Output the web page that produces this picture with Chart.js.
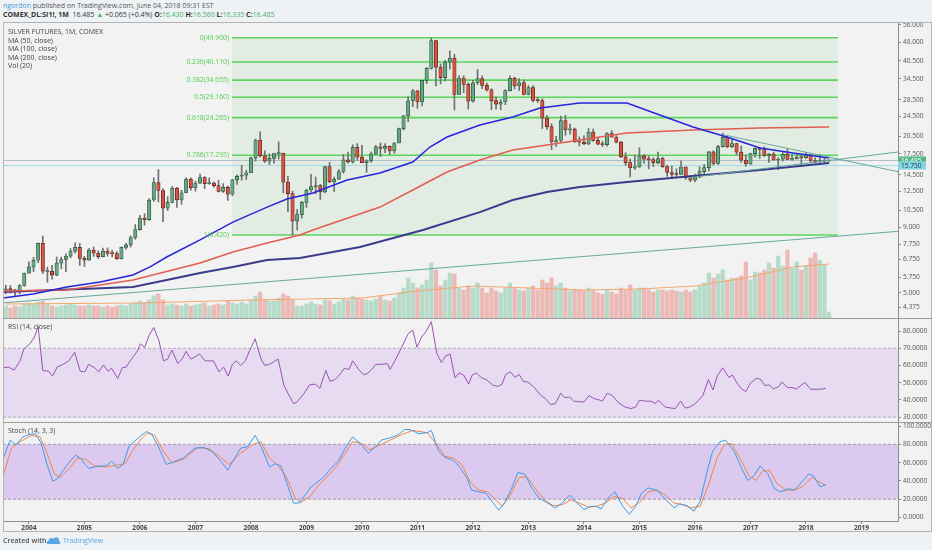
<!DOCTYPE html>
<html>
<head>
<meta charset="utf-8">
<title>Silver futures 1M</title>
<script src="https://cdn.jsdelivr.net/npm/chart.js@4.4.1/dist/chart.umd.min.js"></script>
<style>
  html, body { margin: 0; padding: 0; }
  body { width: 932px; height: 550px; background: #eef2f5; position: relative; overflow: hidden; font-family: 'Open Sans', sans-serif; }
  canvas { position: absolute; left: 0; background: #f2f2f2; }
  .txt { position: absolute; white-space: nowrap; color: #444; font-size: 7px; line-height: 8.5px; }
  .g { color: #4caf6a; }
  .rule { position: absolute; background: #b4b4b4; }
</style>
</head>
<body>
<div class="txt" style="left:3px;top:2px;color:#555"><span style="color:#3d9ad8">ngordon</span> published on TradingView.com, June 04, 2018 09:31 EST</div>
<div class="txt" style="left:3px;top:11px;color:#333"><b>COMEX_DL:SI1!, 1M</b>&nbsp; 16.485 <span class="g">▲</span> +0.065 (+0.4%) <b>O:</b><span class="g">16.430</span> <b>H:</b><span class="g">16.560</span> <b>L:</b><span class="g">16.335</span> <b>C:</b><span class="g">16.485</span></div>

<canvas id="mainChart" width="932" height="296" style="top:22px"></canvas>
<canvas id="rsiChart" width="932" height="104" style="top:318px"></canvas>
<canvas id="stochChart" width="932" height="110" style="top:422px"></canvas>

<div class="txt" style="left:8px;top:28px">SILVER FUTURES, 1M, COMEX<br>MA (50, close)<br>MA (100, close)<br>MA (200, close)<br>Vol (20)</div>
<div class="txt" style="left:8px;top:323px">RSI (14, close)</div>
<div class="txt" style="left:8px;top:427px">Stoch (14, 3, 3)</div>

<div class="rule" style="left:3px;top:22px;width:929px;height:1px"></div>
<div class="rule" style="left:3px;top:22px;width:1px;height:510px"></div>
<div class="rule" style="left:931px;top:22px;width:1px;height:510px"></div>
<div class="rule" style="left:3px;top:531px;width:929px;height:1px"></div>
<div class="rule" style="left:3px;top:318px;width:929px;height:1px;background:#9c9c9c"></div>
<div class="rule" style="left:3px;top:422px;width:929px;height:1px;background:#9c9c9c"></div>

<div class="txt" style="left:3px;top:537px;color:#555;font-weight:600">Created with</div>
<svg style="position:absolute;left:46px;top:536px" width="15" height="9" viewBox="0 0 15 9">
  <path d="M2 8 C0 8 0 5 2.5 5 C2.5 2 6 1 7.5 3 C9 0 14 1 13 5 C15 5 15 8 13 8 Z" fill="#5aa8e3"/>
</svg>
<div class="txt" style="left:63px;top:537px;color:#5aa8e3">TradingView</div>

<script>
// months are counted from Jan 2004 (= 0); first candle is Aug 2003
const START_MONTH = -5;
const X_MIN = -5.6;
const X_MAX = 187.9;
const yearLabels = ['2004', '2005', '2006', '2007', '2008', '2009', '2010', '2011',
                    '2012', '2013', '2014', '2015', '2016', '2017', '2018', '2019'];

// monthly candles, Aug 2003 .. Jun 2018
const opens = [
  5.10, 5.18, 5.13, 5.07, 5.34,
  5.97, 6.30, 6.70, 7.80, 6.05, 6.07, 5.86, 6.53, 6.75, 6.95, 7.28, 7.53,
  6.82, 6.71, 7.34, 7.14, 6.92, 7.28, 7.12, 7.11, 6.80, 7.53, 7.70, 8.23,
  8.83, 9.80, 9.66, 11.54, 13.50, 12.58, 10.72, 11.30, 12.84, 11.55, 12.32, 13.94,
  12.90, 13.43, 14.14, 13.38, 13.46, 13.15, 12.47, 12.94, 12.16, 13.85, 14.30, 14.44,
  14.76, 16.88, 19.82, 17.20, 16.40, 16.80, 17.53, 17.57, 13.56, 12.23, 9.54, 10.12,
  11.30, 12.63, 13.03, 13.15, 12.41, 15.59, 13.59, 13.93, 14.93, 16.59, 16.27, 18.57,
  16.99, 16.18, 16.44, 17.49, 18.64, 18.40, 18.73, 17.97, 19.31, 21.98, 24.67, 28.26,
  30.92, 27.95, 33.98, 37.87, 48.60, 38.25, 34.84, 40.07, 41.51, 29.93, 34.71, 32.79,
  28.18, 33.24, 34.54, 32.48, 31.20, 28.31, 27.42, 27.94, 30.99, 34.61, 32.31, 33.28,
  29.95, 31.80, 28.35, 28.31, 24.15, 22.37, 19.48, 19.74, 23.65, 21.73, 21.87, 19.49,
  19.47, 19.14, 21.31, 19.76, 19.10, 19.02, 21.01, 20.38, 19.46, 17.05, 16.18, 15.42,
  15.56, 17.19, 16.67, 16.62, 16.16, 16.77, 15.60, 14.80, 14.55, 14.53, 15.55, 14.13,
  13.82, 14.19, 14.91, 15.46, 17.82, 16.06, 18.69, 20.32, 18.66, 19.21, 17.77, 16.54,
  15.99, 17.54, 18.40, 18.21, 17.25, 17.47, 16.56, 16.70, 17.48, 16.66, 16.73, 16.95,
  16.92, 17.35, 16.49, 16.31, 16.41, 16.43
];
const highs = [
  5.35, 5.33, 5.16, 5.38, 5.98,
  6.60, 6.88, 7.85, 8.34, 6.30, 6.40, 6.90, 6.90, 7.10, 7.45, 7.85, 7.80,
  6.94, 7.45, 7.56, 7.30, 7.48, 7.50, 7.35, 7.25, 7.55, 7.80, 8.35, 9.25,
  10.05, 10.20, 11.70, 14.10, 15.20, 12.80, 11.90, 13.05, 12.95, 12.60, 14.10, 14.10,
  13.70, 14.60, 14.25, 14.10, 13.60, 13.80, 13.40, 13.10, 13.90, 14.50, 15.80, 15.10,
  17.00, 20.00, 21.35, 18.00, 17.50, 17.60, 19.50, 17.60, 14.30, 12.50, 10.60, 11.40,
  12.70, 14.55, 14.20, 13.30, 15.65, 16.20, 14.20, 15.20, 17.40, 17.80, 19.00, 19.20,
  18.90, 16.60, 17.80, 18.90, 19.30, 19.20, 18.80, 19.40, 22.10, 24.80, 29.30, 31.30,
  31.05, 34.00, 38.20, 49.80, 48.80, 39.40, 40.70, 44.30, 43.00, 35.50, 35.40, 33.20,
  34.00, 37.50, 35.40, 33.20, 31.50, 29.30, 28.60, 31.30, 35.40, 35.00, 34.50, 34.10,
  32.40, 32.40, 29.20, 28.80, 24.80, 23.00, 20.50, 24.60, 24.80, 22.90, 22.10, 20.40,
  20.60, 22.00, 21.90, 20.20, 19.60, 21.20, 21.60, 20.60, 19.60, 17.70, 16.70, 17.30,
  18.50, 17.40, 17.20, 16.90, 17.80, 17.00, 15.80, 15.70, 15.30, 16.40, 15.60, 14.40,
  14.60, 15.60, 15.90, 17.90, 18.00, 18.90, 21.10, 20.50, 20.10, 19.30, 18.80, 17.30,
  17.60, 18.50, 18.50, 18.65, 17.60, 17.80, 16.90, 17.70, 18.30, 17.40, 17.40, 17.20,
  17.70, 17.40, 16.90, 17.40, 16.80, 16.56
];
const lows = [
  4.95, 4.98, 4.82, 4.95, 5.30,
  5.96, 6.05, 6.55, 5.95, 5.50, 5.65, 5.82, 6.20, 6.05, 6.85, 7.15, 6.40,
  6.34, 6.70, 6.94, 6.80, 6.90, 6.95, 6.90, 6.75, 6.78, 7.40, 7.55, 8.10,
  8.80, 9.20, 9.60, 11.40, 11.35, 9.50, 10.50, 11.25, 10.80, 11.10, 12.30, 12.60,
  12.50, 13.40, 12.80, 13.30, 12.95, 12.40, 12.35, 11.50, 12.00, 13.30, 13.80, 13.90,
  14.80, 16.40, 17.00, 16.20, 15.90, 16.10, 16.70, 12.30, 10.40, 8.42, 8.80, 9.80,
  10.80, 12.40, 12.20, 11.60, 12.30, 13.50, 12.45, 13.90, 14.70, 16.10, 16.10, 16.50,
  16.20, 14.80, 16.20, 17.40, 17.10, 17.70, 17.40, 17.60, 19.30, 21.70, 23.40, 26.80,
  26.40, 27.00, 33.00, 37.60, 32.30, 32.90, 33.80, 37.60, 26.00, 29.90, 30.40, 26.20,
  27.90, 32.70, 31.50, 30.80, 26.10, 26.20, 26.10, 27.30, 30.90, 31.40, 31.00, 29.80,
  29.80, 28.00, 27.80, 22.00, 21.80, 18.20, 18.70, 19.40, 20.70, 20.90, 19.40, 18.80,
  19.00, 19.00, 19.60, 19.00, 18.70, 18.75, 20.30, 19.30, 16.90, 15.80, 14.20, 15.20,
  15.50, 16.10, 15.30, 15.60, 16.00, 15.50, 14.30, 14.00, 14.20, 14.50, 13.90, 13.62,
  13.60, 14.10, 14.60, 15.00, 15.80, 15.90, 18.60, 18.50, 18.50, 17.40, 16.20, 15.65,
  15.90, 17.00, 16.80, 17.10, 16.20, 16.50, 15.20, 16.40, 16.60, 16.50, 16.70, 15.70,
  16.80, 16.20, 16.10, 16.20, 16.10, 16.335
];
const closes = [
  5.18, 5.14, 5.07, 5.33, 5.96,
  6.31, 6.70, 7.80, 6.07, 6.07, 5.86, 6.53, 6.75, 6.95, 7.28, 7.53, 6.82,
  6.71, 7.34, 7.14, 6.92, 7.28, 7.12, 7.11, 6.80, 7.53, 7.70, 8.23, 8.83,
  9.80, 9.66, 11.54, 13.50, 12.58, 10.72, 11.30, 12.84, 11.55, 12.32, 13.94, 12.90,
  13.43, 14.14, 13.38, 13.46, 13.15, 12.47, 12.94, 12.16, 13.85, 14.30, 14.44, 14.76,
  16.88, 19.82, 17.20, 16.40, 16.80, 17.53, 17.57, 13.56, 12.23, 9.54, 10.12, 11.30,
  12.63, 13.03, 13.15, 12.41, 15.59, 13.59, 13.93, 14.93, 16.59, 16.27, 18.57, 16.99,
  16.18, 16.44, 17.49, 18.64, 18.40, 18.73, 17.97, 19.31, 21.98, 24.67, 28.26, 30.92,
  27.95, 33.98, 37.87, 48.60, 38.25, 34.84, 40.07, 41.51, 29.93, 34.71, 32.79, 28.18,
  33.24, 34.54, 32.48, 31.20, 28.31, 27.42, 27.94, 30.99, 34.61, 32.31, 33.28, 29.95,
  31.80, 28.35, 28.31, 24.15, 22.37, 19.48, 19.74, 23.65, 21.73, 21.87, 19.49, 19.47,
  19.14, 21.31, 19.76, 19.10, 19.02, 21.01, 20.38, 19.46, 17.05, 16.18, 15.42, 15.56,
  17.19, 16.67, 16.62, 16.16, 16.77, 15.60, 14.80, 14.55, 14.53, 15.55, 14.13, 13.82,
  14.19, 14.91, 15.46, 17.82, 16.06, 18.69, 20.32, 18.66, 19.21, 17.77, 16.54, 15.99,
  17.54, 18.40, 18.21, 17.25, 17.47, 16.56, 16.70, 17.48, 16.66, 16.73, 16.95, 16.92,
  17.35, 16.49, 16.31, 16.41, 16.43, 16.485
];
// volume, thousands of contracts
const volumes = [
  300, 250, 300, 275, 350,
  375, 350, 400, 425, 350, 300, 275, 300, 325, 350, 325, 300,
  300, 325, 300, 300, 275, 300, 275, 300, 325, 300, 350, 375,
  425, 375, 450, 550, 600, 450, 325, 350, 325, 300, 350, 300,
  325, 350, 375, 300, 325, 350, 325, 425, 375, 350, 400, 350,
  450, 550, 650, 450, 425, 425, 500, 600, 550, 450, 300, 300,
  350, 400, 350, 325, 450, 425, 350, 400, 475, 450, 550, 500,
  475, 450, 425, 475, 550, 450, 425, 500, 625, 750, 1000, 875,
  750, 825, 950, 1375, 1200, 800, 950, 1125, 1100, 750, 700, 800,
  750, 875, 750, 625, 750, 675, 625, 750, 875, 750, 700, 675,
  750, 800, 700, 950, 875, 1000, 800, 875, 750, 675, 700, 700,
  675, 750, 700, 625, 600, 700, 650, 600, 750, 700, 825, 700,
  750, 750, 700, 650, 700, 700, 675, 700, 675, 650, 700, 650,
  700, 800, 875, 1125, 1000, 1100, 1200, 950, 1000, 1000, 1050, 1400,
  950, 1150, 1125, 1200, 1375, 1250, 1550, 1300, 1700, 1250, 1400, 1200,
  1300, 1500, 1625, 1450, 1325, 150
];
const volMaX = [-5, 24, 48, 60, 72, 84, 96, 108, 120, 132, 144, 156, 165, 173];
const volMaY = [350, 375, 450, 475, 500, 675, 800, 750, 700, 725, 800, 1025, 1275, 1350];

// moving averages
const ma50X = [-5.6, 0.9, 8.2, 15.4, 22.5, 26.2, 29.8, 37.0, 44.1, 51.5, 55.8, 61.4, 68.8, 75.9,
               83.0, 86.7, 90.4, 97.5, 104.6, 110.5, 119.1, 129.3, 136.4, 143.6, 150.9, 158.1, 165.2, 173.0];
const ma50Y = [4.77, 4.94, 5.26, 5.51, 5.87, 6.31, 6.90, 8.05, 9.46, 10.83, 11.65, 12.30, 13.82, 14.72,
               16.27, 18.62, 20.38, 22.71, 24.42, 26.48, 27.70, 27.70, 24.86, 22.30, 20.38, 18.46, 17.64, 16.86];
const ma100X = [-5.6, 8.2, 22.5, 37.0, 44.1, 51.5, 58.6, 61.4, 75.9, 83.0, 90.4, 97.5, 104.6, 112.0,
                119.1, 129.3, 143.6, 158.1, 173.0];
const ma100Y = [5.08, 5.12, 5.61, 6.54, 7.22, 7.83, 8.42, 8.80, 10.83, 12.63, 14.86, 16.57, 18.12, 18.96,
                19.84, 21.13, 21.71, 22.10, 22.30];
const ma200X = [-5.6, 22.5, 29.8, 37.0, 44.1, 51.5, 58.6, 71.6, 85.2, 97.5, 104.6, 112.0, 119.1, 129.3,
                143.6, 158.1, 173.0];
const ma200Y = [5.03, 5.26, 5.61, 5.97, 6.31, 6.71, 6.84, 7.55, 8.80, 10.35, 11.54, 12.40, 12.98, 13.58,
                14.34, 15.13, 16.12];

// fibonacci retracement
const fibRatios = ['0', '0.236', '0.382', '0.5', '0.618', '0.786', '1'];
const fibLevels = [49.9, 40.11, 34.055, 29.16, 24.265, 17.295, 8.42];
const fibStart = 43.9;
const fibEnd = 174.9;

const priceTicks = [56, 48, 40.5, 34.5, 28.5, 24.5, 20.5, 17.5, 14.5, 12.5, 10.5, 9, 7.75, 6.75, 5.75, 5, 4.375];
const lastPrices = [16.485, 15.75];

// trend lines
const trendLongX = [-5.6, 187.9];
const trendLongY = [4.56, 8.7];
const trendDownX = [150.1, 187.9];
const trendDownY = [20.8, 14.9];
const trendUpX = [142.5, 187.9];
const trendUpY = [14.1, 17.8];

// RSI (14, close)
const rsiX = [
  -5.7, -4.4, -3.2, -1.9, -1.1, 0.2, 1.2, 2.0, 3.0, 4.3,
  5.1, 6.1, 7.4, 8.6, 9.9, 11.1, 12.1, 12.9, 14.2, 15.1,
  16.1, 17.1, 17.9, 19.2, 20.2, 21.0, 22.0, 23.5, 24.1, 25.0,
  26.0, 27.0, 28.1, 29.1, 30.0, 30.9, 32.2, 33.1, 34.0, 35.0,
  35.9, 36.9, 38.1, 39.9, 41.1, 42.1, 43.1, 44.0, 44.8, 45.8,
  46.8, 47.7, 48.9, 50.2, 51.0, 52.0, 53.9, 55.1, 56.0, 57.2,
  58.0, 59.5, 60.7, 61.9, 62.9, 64.2, 65.1, 66.1, 66.9, 68.2,
  69.2, 70.0, 71.3, 72.3, 73.1, 74.1, 75.0, 76.2, 77.5, 78.1,
  79.3, 80.6, 82.0, 83.0, 83.9, 84.9, 85.8, 87.0, 88.2, 89.2,
  90.1, 91.1, 92.1, 93.0, 94.0, 95.1, 95.8, 96.7, 97.9, 98.9,
  100.2, 101.4, 102.3, 103.1, 104.1, 105.1, 106.0, 106.9, 107.8, 109.1,
  110.6, 111.6, 112.8, 113.8, 115.0, 115.9, 116.9, 117.8, 119.0, 120.0,
  121.1, 122.1, 123.4, 124.0, 125.0, 126.2, 127.4, 128.9, 130.2, 131.2,
  132.0, 133.3, 134.5, 135.4, 136.1, 137.6, 138.8, 139.8, 140.9, 141.9,
  142.9, 144.1, 145.7, 146.9, 147.9, 148.8, 150.0, 151.3, 152.1, 153.1,
  154.1, 155.0, 156.0, 157.2, 158.1, 159.1, 160.0, 161.0, 162.1, 162.8,
  164.0, 165.0, 165.9, 167.8, 169.0, 170.5, 171.5, 172.3
];
const rsiY = [
  58.7, 59.1, 57.3, 62.7, 69.6, 72.6, 76.5, 82.5, 57.1, 56.7,
  53.8, 59.1, 60.7, 62.7, 67.6, 56.7, 56.3, 60.7, 58.7, 56.3,
  60.3, 56.7, 58.3, 52.4, 58.7, 59.1, 63.1, 68.6, 72.6, 70.6,
  77.5, 82.1, 74.6, 62.7, 63.7, 69.0, 61.1, 63.7, 68.2, 63.7,
  65.0, 66.6, 62.7, 62.7, 56.3, 59.1, 53.8, 60.7, 62.7, 60.1,
  62.7, 68.6, 75.5, 63.7, 60.1, 60.7, 63.7, 48.8, 43.9, 37.9,
  38.9, 43.9, 48.8, 49.2, 46.8, 57.1, 50.8, 51.8, 53.8, 58.3,
  57.7, 62.7, 57.7, 54.8, 55.1, 57.7, 60.7, 60.7, 61.1, 57.7,
  63.7, 70.6, 78.5, 80.5, 70.6, 76.5, 79.5, 85.4, 67.0, 61.7,
  65.6, 66.6, 52.8, 55.7, 54.4, 49.2, 54.4, 55.7, 52.8, 51.8,
  48.8, 47.8, 49.2, 54.8, 56.3, 53.2, 54.8, 50.8, 50.4, 47.8,
  42.9, 40.9, 37.3, 37.9, 43.9, 41.3, 41.7, 39.3, 38.9, 38.9,
  42.5, 40.9, 39.9, 39.3, 43.9, 42.5, 38.5, 35.9, 35.0, 35.9,
  39.9, 39.3, 39.3, 37.9, 39.9, 35.9, 35.3, 35.0, 39.3, 35.3,
  35.9, 37.9, 42.5, 51.8, 45.8, 53.8, 58.7, 53.2, 54.4, 49.8,
  46.4, 44.9, 49.8, 52.4, 52.2, 48.4, 48.8, 46.4, 47.8, 50.4,
  47.2, 47.2, 46.4, 50.2, 46.2, 46.2, 46.4, 46.8
];
const rsiTicks = [30, 40, 50, 60, 70, 80];
const rsiBand = [30, 70];

// Stoch (14, 3, 3): %K and %D
const stochKX = [
  -5.65, -4.04, -2.8, -1.31, -0.07, 1.42, 2.66, 3.9, 5.14, 6.13,
  7.37, 8.61, 10.1, 11.1, 12.1, 12.9, 14.2, 15.4, 16.7, 17.9,
  19.2, 20.4, 21.6, 23.5, 25.4, 26.6, 27.8, 29.7, 30.9, 33.4,
  35.9, 37.8, 39.6, 41.5, 43.0, 44.3, 45.8, 47.3, 48.9, 50.2,
  52.0, 53.3, 54.5, 55.7, 57.2, 58.5, 59.7, 61.0, 62.6, 63.8,
  65.1, 66.9, 68.8, 70.0, 71.6, 73.4, 75.0, 76.2, 78.1, 79.9,
  81.2, 82.4, 84.3, 86.1, 87.0, 88.6, 89.9, 91.7, 93.0, 94.8,
  95.7, 97.3, 98.9, 100.4, 101.6, 102.9, 104.5, 105.7, 107.2, 108.8,
  110.3, 112.2, 113.8, 115.3, 116.9, 118.4, 120.0, 121.5, 122.7, 123.7,
  125.2, 126.7, 128.3, 129.8, 131.2, 132.4, 133.9, 135.8, 137.6, 139.5,
  140.7, 142.3, 143.8, 145.1, 146.5, 147.8, 149.4, 150.6, 152.5, 154.0,
  155.4, 156.8, 158.1, 159.7, 161.2, 162.4, 164.3, 165.5, 167.1, 168.6,
  169.6, 171.1, 172.3
];
const stochKY = [
  63.4, 84.6, 79.3, 88.1, 90.6, 91.6, 81.1, 58.1, 39.8, 42.2,
  51.1, 59.9, 68.0, 65.2, 58.1, 53.9, 55.3, 56.4, 56.4, 61.6,
  53.9, 58.1, 77.5, 86.4, 94.1, 90.6, 79.3, 58.1, 59.9, 65.2,
  75.8, 76.5, 72.2, 61.6, 51.8, 63.4, 75.8, 77.5, 89.9, 77.5,
  55.3, 58.8, 56.4, 38.7, 15.8, 15.8, 24.6, 33.4, 39.8, 44.0,
  52.8, 61.6, 79.3, 88.1, 81.1, 70.5, 77.5, 84.6, 87.1, 90.6,
  96.2, 96.2, 91.6, 92.7, 95.2, 72.2, 65.9, 62.4, 56.4, 42.2,
  29.9, 28.1, 26.3, 15.8, 8.0, 16.5, 33.4, 49.3, 47.5, 31.6,
  21.1, 15.8, 10.5, 15.8, 24.6, 16.5, 8.7, 12.2, 12.2, 9.4,
  21.1, 28.1, 12.9, 3.4, 12.2, 26.3, 32.3, 29.9, 20.0, 10.5,
  15.1, 12.9, 6.9, 17.5, 47.5, 72.2, 82.8, 84.6, 72.2, 54.6,
  40.5, 45.8, 56.4, 48.2, 31.6, 28.1, 31.6, 29.9, 38.7, 47.5,
  45.8, 33.4, 36.2
];
const stochDX = [
  -5.65, -3.79, -1.93, 0.55, 2.41, 3.9, 5.51, 6.75, 8.61, 10.5,
  12.3, 14.2, 16.7, 19.2, 20.8, 22.3, 24.1, 25.7, 27.2, 29.1,
  30.9, 33.4, 36.5, 39.0, 41.5, 43.3, 45.8, 48.3, 50.2, 52.0,
  53.9, 55.7, 57.6, 58.8, 60.7, 62.6, 64.4, 66.3, 68.2, 70.0,
  71.9, 73.7, 75.6, 78.1, 80.6, 83.0, 86.1, 88.0, 89.9, 91.7,
  93.6, 95.4, 97.3, 99.2, 100.6, 102.3, 104.1, 106.0, 107.8, 109.7,
  111.6, 113.4, 115.3, 117.2, 119.0, 120.9, 122.7, 124.6, 126.5, 128.3,
  130.2, 132.0, 133.9, 135.8, 137.6, 139.5, 141.3, 143.2, 145.1, 146.9,
  148.8, 150.3, 151.9, 153.7, 155.6, 157.2, 158.7, 160.2, 161.8, 163.7,
  165.5, 167.4, 169.3, 170.9, 172.3
];
const stochDY = [
  44.0, 75.8, 82.8, 89.9, 88.1, 70.5, 47.5, 44.0, 52.8, 65.2,
  63.4, 56.4, 55.3, 57.4, 58.8, 72.2, 84.6, 92.7, 89.9, 72.2,
  59.9, 63.4, 76.5, 75.1, 65.2, 58.1, 70.5, 79.3, 82.8, 65.2,
  56.4, 44.0, 21.1, 16.5, 22.8, 35.2, 44.0, 54.6, 68.7, 82.8,
  81.1, 74.0, 78.6, 84.6, 90.6, 95.2, 92.7, 81.1, 66.9, 65.2,
  58.1, 38.7, 29.9, 28.1, 21.1, 12.2, 24.6, 44.0, 44.0, 29.9,
  18.6, 12.9, 14.0, 19.3, 15.8, 11.5, 12.2, 15.8, 22.8, 21.1,
  10.5, 16.5, 28.1, 29.9, 24.6, 15.8, 14.0, 10.5, 12.2, 35.2,
  65.2, 79.3, 81.1, 65.2, 45.8, 40.5, 51.1, 51.1, 36.9, 29.9,
  29.9, 34.1, 44.0, 38.7, 35.2
];
const stochTicks = [0, 20, 40, 60, 80, 100];
const stochBand = [20, 80];

// ---- helpers ----
const UP = '#6ba583', DOWN = '#d75442';
const UP_EDGE = '#225437', DOWN_EDGE = '#5b1a13';
const AXIS_FONT = { family: 'Open Sans', size: 6.6 };

Chart.defaults.font.family = 'Open Sans';

function pts(xs, ys) {
  return xs.map((x, i) => ({ x: x, y: ys[i] }));
}

function hline(value, x0, x1) {
  return [{ x: x0, y: value }, { x: x1, y: value }];
}

function lineSet(data, color, width, extra) {
  return Object.assign({
    type: 'line', data: data, borderColor: color, borderWidth: width,
    pointRadius: 0, tension: 0, fill: false
  }, extra || {});
}

// right axis with a fixed width so the three panes line up
function rightAxis(min, max, tickValues, digits, type) {
  return {
    type: type || 'linear', position: 'right', min: min, max: max,
    afterFit(scale) { scale.width = 34; scale.paddingTop = 0; scale.paddingBottom = 0; },
    afterBuildTicks(scale) { scale.ticks = tickValues.map(v => ({ value: v })); },
    ticks: { font: AXIS_FONT, color: '#555', padding: 2, callback: v => Number(v).toFixed(digits) },
    grid: { drawOnChartArea: false, tickLength: 3, color: '#8c8c8c' },
    border: { display: true, color: '#8c8c8c' }
  };
}

// bar charts offset the index axis by default, keep it flush
function hiddenX() {
  return { type: 'linear', min: X_MIN, max: X_MAX, offset: false, display: false };
}

const baseOptions = {
  responsive: false,
  animation: false,
  events: [],
  layout: { padding: { left: 3, right: 0, top: 0, bottom: 0 } },
  plugins: { legend: { display: false }, tooltip: { enabled: false } }
};

// ---- main price pane ----
const isUp = closes.map((c, i) => c >= opens[i]);
const candleX = closes.map((c, i) => START_MONTH + i);

const fibLabels = {
  id: 'fibLabels',
  afterDatasetsDraw(chart) {
    const { ctx, scales } = chart;
    const px = scales.x.getPixelForValue(fibStart) - 3;
    ctx.save();
    ctx.font = '6.8px "Open Sans"';
    ctx.fillStyle = '#4fd04f';
    ctx.textAlign = 'right';
    ctx.textBaseline = 'middle';
    fibLevels.forEach((lvl, i) => {
      ctx.fillText(fibRatios[i] + '(' + lvl.toFixed(3) + ')', px, scales.y.getPixelForValue(lvl));
    });
    ctx.restore();
  }
};

const priceTags = {
  id: 'priceTags',
  afterDraw(chart) {
    const { ctx, chartArea, scales } = chart;
    const styles = [{ bg: '#53b987', fg: '#ffffff' }, { bg: '#89d3e6', fg: '#1d4652' }];
    ctx.save();
    ctx.font = '6.6px "Open Sans"';
    ctx.textBaseline = 'middle';
    lastPrices.forEach((p, i) => {
      const py = scales.y.getPixelForValue(p);
      ctx.fillStyle = styles[i].bg;
      ctx.fillRect(chartArea.right, py - 4, 28, 8);
      ctx.fillStyle = styles[i].fg;
      ctx.fillText(p.toFixed(3), chartArea.right + 3, py + 0.5);
    });
    ctx.restore();
  }
};

const mainDatasets = [];
mainDatasets.push(lineSet(hline(fibLevels[0], fibStart, fibEnd), 'rgba(0,0,0,0)', 0, {
  fill: { value: fibLevels[fibLevels.length - 1] },
  backgroundColor: 'rgba(100,190,100,0.1)', order: 100
}));
fibLevels.forEach(lvl => {
  mainDatasets.push(lineSet(hline(lvl, fibStart, fibEnd), '#5ad65a', 1.6, { order: 90 }));
});
mainDatasets.push(lineSet(hline(lastPrices[0], X_MIN, X_MAX), '#b5bec8', 1, { order: 85 }));
mainDatasets.push(lineSet(hline(lastPrices[1], X_MIN, X_MAX), '#a6d9e6', 1, { order: 85 }));
mainDatasets.push({
  type: 'bar', yAxisID: 'yVol', order: 80, grouped: false, barThickness: 3.6,
  data: pts(candleX, volumes),
  backgroundColor: isUp.map(u => u ? 'rgba(83,185,135,0.38)' : 'rgba(225,95,85,0.38)')
});
mainDatasets.push(lineSet(pts(volMaX, volMaY), '#f3a66c', 1, { yAxisID: 'yVol', order: 75 }));
mainDatasets.push({
  type: 'bar', order: 30, grouped: false, barThickness: 1,
  data: candleX.map((x, i) => ({ x: x, y: [lows[i], highs[i]] })),
  backgroundColor: '#707073'
});
mainDatasets.push({
  type: 'bar', order: 20, grouped: false, barThickness: 3.4, minBarLength: 1,
  data: candleX.map((x, i) => ({ x: x, y: [opens[i], closes[i]] })),
  backgroundColor: isUp.map(u => u ? UP : DOWN),
  borderColor: isUp.map(u => u ? UP_EDGE : DOWN_EDGE),
  borderWidth: 0.7, borderSkipped: false
});
mainDatasets.push(lineSet(pts(ma200X, ma200Y), '#3b3b8e', 2, { order: 10 }));
mainDatasets.push(lineSet(pts(ma100X, ma100Y), '#e35d4f', 1.5, { order: 9 }));
mainDatasets.push(lineSet(pts(ma50X, ma50Y), '#2525dd', 1.5, { order: 8 }));
mainDatasets.push(lineSet(pts(trendLongX, trendLongY), '#66a999', 1, { order: 5 }));
mainDatasets.push(lineSet(pts(trendDownX, trendDownY), '#66a999', 1, { order: 5 }));
mainDatasets.push(lineSet(pts(trendUpX, trendUpY), '#66a999', 1, { order: 5 }));

new Chart(document.getElementById('mainChart'), {
  type: 'bar',
  data: { datasets: mainDatasets },
  options: Object.assign({}, baseOptions, {
    scales: {
      x: hiddenX(),
      y: rightAxis(3.98, 57.53, priceTicks, 3, 'logarithmic'),
      yVol: { type: 'linear', display: false, min: 0, max: 7400 }
    }
  }),
  plugins: [fibLabels, priceTags]
});

// ---- RSI pane ----
new Chart(document.getElementById('rsiChart'), {
  type: 'line',
  data: {
    datasets: [
      lineSet(hline(rsiBand[1], X_MIN, X_MAX), '#a79bb4', 0.8, {
        borderDash: [3, 2], fill: { value: rsiBand[0] }, backgroundColor: 'rgba(160,90,230,0.15)', order: 10
      }),
      lineSet(hline(rsiBand[0], X_MIN, X_MAX), '#a79bb4', 0.8, { borderDash: [3, 2], order: 9 }),
      lineSet(pts(rsiX, rsiY), '#9b52b3', 1, { order: 1 })
    ]
  },
  options: Object.assign({}, baseOptions, {
    scales: { x: hiddenX(), y: rightAxis(27.2, 87.6, rsiTicks, 4) }
  })
});

// ---- Stochastic pane with the time axis ----
new Chart(document.getElementById('stochChart'), {
  type: 'line',
  data: {
    datasets: [
      lineSet(hline(stochBand[1], X_MIN, X_MAX), '#8f8699', 0.8, {
        borderDash: [3, 2], fill: { value: stochBand[0] }, backgroundColor: 'rgba(160,90,230,0.27)', order: 10
      }),
      lineSet(hline(stochBand[0], X_MIN, X_MAX), '#8f8699', 0.8, { borderDash: [3, 2], order: 9 }),
      lineSet(pts(stochDX, stochDY), '#ef8548', 1, { order: 2 }),
      lineSet(pts(stochKX, stochKY), '#3d9be8', 1, { order: 1 })
    ]
  },
  options: Object.assign({}, baseOptions, {
    scales: {
      x: {
        type: 'linear', min: X_MIN, max: X_MAX, offset: false,
        afterFit(scale) { scale.height = 11; scale.paddingLeft = 0; scale.paddingRight = 0; },
        afterBuildTicks(scale) { scale.ticks = yearLabels.map((y, i) => ({ value: i * 12 })); },
        ticks: {
          font: { family: 'Open Sans', size: 6.6, weight: 'bold' }, color: '#444',
          padding: 0, autoSkip: false, maxRotation: 0,
          callback: (v, i) => yearLabels[i]
        },
        grid: { drawOnChartArea: false, tickLength: 3, color: '#8c8c8c' },
        border: { display: true, color: '#8c8c8c' }
      },
      y: rightAxis(-3.8, 104.4, stochTicks, 4)
    }
  })
});
</script>
</body>
</html>
